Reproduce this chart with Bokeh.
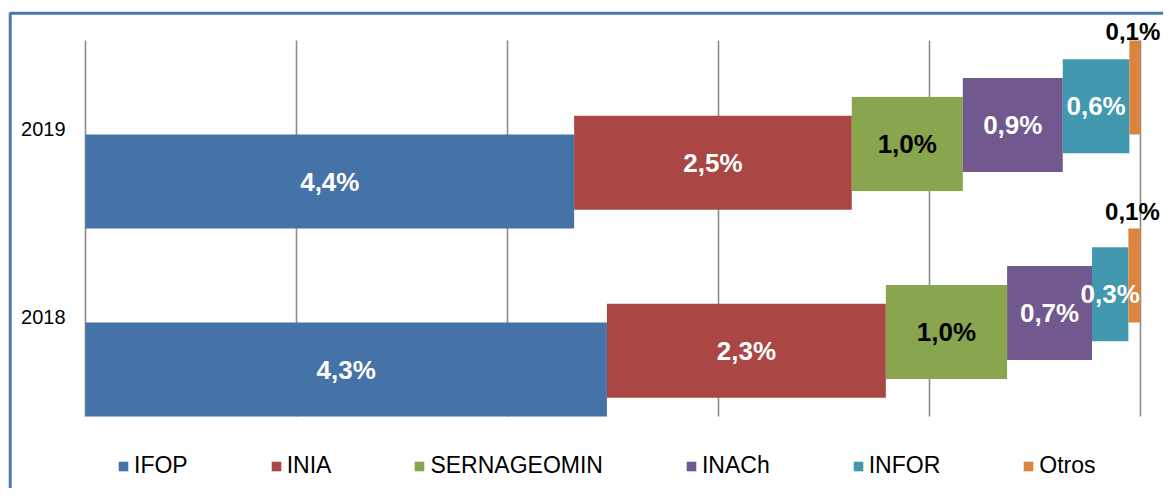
import numpy as np
from bokeh.plotting import figure
from bokeh.models import ColumnDataSource, Range1d, Legend, LegendItem
from bokeh.core.properties import value
from bokeh.embed import file_html
from bokeh.resources import INLINE

# ---------------- data ----------------
years = ["2018", "2019"]
series = ["IFOP", "INIA", "SERNAGEOMIN", "INACh", "INFOR", "Otros"]
ifop = [4.3, 4.4]
inia = [2.3, 2.5]
sernageomin = [1.0, 1.0]
inach = [0.7, 0.9]
infor = [0.3, 0.6]
otros = [0.1, 0.1]

# ---------------- style ----------------
colors = ["#4572A7", "#AA4643", "#89A54E", "#71588F", "#4198AF", "#DB843D"]
label_colors = ["white", "white", "black", "white", "white", "black"]
FONT = "Liberation Sans"
W, H = 1163, 488
ORIGIN_X, PX_PER_X = 85, 1055   # canvas px of 0 %, px per 100 %
ORIGIN_Y, PX_PER_Y = 416, 188   # canvas px of y=0, px per category
STEP = 0.1                      # vertical shift of each series
BAR_H = 0.5

def cx(px):
    return (px - ORIGIN_X) / PX_PER_X

def cy(py):
    return (ORIGIN_Y - py) / PX_PER_Y

p = figure(width=W, height=H, output_backend="svg", toolbar_location=None,
           x_axis_location=None, y_axis_location=None, min_border=0,
           x_range=Range1d(cx(0), cx(W)), y_range=Range1d(cy(H), cy(0)))
p.outline_line_color = None
p.background_fill_color = "white"
p.border_fill_color = "white"
p.grid.visible = False

# frame border (left + top)
p.line(x=[cx(9.7), cx(9.7), cx(W + 20)], y=[cy(H + 20), cy(12.8), cy(12.8)],
       line_color="#4A78B2", line_width=3)

# vertical gridlines at every 20 %
ticks = np.linspace(0, 1, 6)
p.segment(x0=ticks, y0=[0] * 6, x1=ticks, y1=[len(years)] * 6,
          line_color="#8C8C8C", line_width=1.6)

# category labels
p.text(x=[0, 0], y=[i + 0.5 for i in range(len(years))], text=years,
       text_font=value(FONT), text_font_size="20px", text_color="black",
       text_align="right", text_baseline="middle", x_offset=-20, y_offset=-6)

vals = [ifop, inia, sernageomin, inach, infor, otros]
totals = np.sum(np.array(vals), axis=0)
cum = np.zeros(len(years))
renderers = []
in_x, in_y, in_t, in_c = [], [], [], []
ot_x, ot_y, ot_t, ot_yo = [], [], [], []
for i, (name, v) in enumerate(zip(series, vals)):
    frac = np.array(v) / totals
    left = cum.copy()
    right = cum + frac
    bottom = np.arange(len(years)) + STEP * i
    top = bottom + BAR_H
    src = ColumnDataSource(dict(left=left, right=right, bottom=bottom, top=top))
    r = p.quad(left="left", right="right", bottom="bottom", top="top", source=src,
               fill_color=colors[i], line_color=None)
    renderers.append((name, r))
    texts = [f"{x:.1f}".replace(".", ",") + "%" for x in v]
    for j in range(len(years)):
        if name == "Otros":
            ot_x.append((left[j] + right[j]) / 2)
            ot_y.append(top[j])
            ot_t.append(texts[j])
            ot_yo.append(4 if j == len(years) - 1 else -4)
        else:
            in_x.append((left[j] + right[j]) / 2)
            in_y.append((bottom[j] + top[j]) / 2)
            in_t.append(texts[j])
            in_c.append(label_colors[i])
    cum = right

p.text(x="x", y="y", text="t", text_color="c",
       source=ColumnDataSource(dict(x=in_x, y=in_y, t=in_t, c=in_c)),
       text_font=value(FONT), text_font_size="26px", text_font_style="bold",
       text_align="center", text_baseline="middle")
p.text(x="x", y="y", text="t", y_offset="yo", x_offset=-2,
       source=ColumnDataSource(dict(x=ot_x, y=ot_y, t=ot_t, yo=ot_yo)),
       text_font=value(FONT), text_font_size="24px", text_font_style="bold",
       text_color="black", text_align="center", text_baseline="bottom")

legend = Legend(items=[LegendItem(label=n, renderers=[r]) for n, r in renderers],
                orientation="horizontal", location=(117, 9),
                spacing=82, padding=0, margin=0, glyph_width=12, glyph_height=12,
                label_standoff=5, label_text_font=FONT, label_text_font_size="23px",
                label_text_color="black", border_line_color=None,
                background_fill_alpha=0)
p.add_layout(legend)

open("out.html", "w").write(file_html(p, INLINE))
